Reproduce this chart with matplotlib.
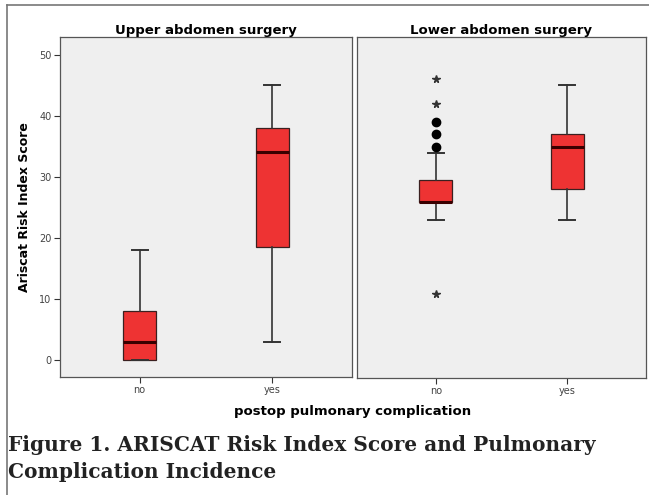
import numpy as np
import matplotlib.pyplot as plt
from matplotlib.lines import Line2D

# box summaries: [whislo, q1, med, q3, whishi]
groups = ['no', 'yes']
panels = ['Upper abdomen surgery', 'Lower abdomen surgery']
upper_stats = [[0, 0, 3, 8, 18], [3, 18.5, 34, 38, 45]]
lower_stats = [[23, 26, 26, 29.5, 34], [23, 28, 35, 37, 45]]
# outliers (circles) and extremes (stars), lower panel, group "no"
lower_outliers = [35, 37, 39]
lower_extremes = [11, 42, 46]

BOX_RED = '#ee3333'
PANEL_BG = '#efefef'


def make_stats(rows):
    out = []
    for lo, q1, med, q3, hi in rows:
        out.append(dict(whislo=lo, q1=q1, med=med, q3=q3, whishi=hi, fliers=[]))
    return out


fig = plt.figure(figsize=(6.49, 4.95), dpi=100)
W, H = 649, 495

ax1 = fig.add_axes([60 / W, 1 - 377 / H, 292 / W, 340 / H])
ax2 = fig.add_axes([357 / W, 1 - 378 / H, 289 / W, 341 / H], sharey=ax1)

for ax, stats, title in [(ax1, upper_stats, panels[0]), (ax2, lower_stats, panels[1])]:
    ax.set_facecolor(PANEL_BG)
    ax.bxp(make_stats(stats), positions=[1, 2], widths=0.25, patch_artist=True,
           showfliers=False, capwidths=0.12,
           boxprops=dict(facecolor=BOX_RED, edgecolor='#3a2020', linewidth=0.9),
           medianprops=dict(color='#3a0000', linewidth=2.2),
           whiskerprops=dict(color='#333333', linewidth=1.2),
           capprops=dict(color='#333333', linewidth=1.4))
    ax.set_xlim(0.4, 2.6)
    ax.set_xticks([1, 2])
    ax.set_xticklabels(groups, fontsize=7, color='#444444')
    ax.set_title(title, fontsize=9.5, fontweight='bold', pad=2)
    for s in ax.spines.values():
        s.set_color('#555555')
        s.set_linewidth(0.9)
    ax.tick_params(axis='x', length=4, color='#333333', pad=2)

ax2.plot([1] * len(lower_outliers), lower_outliers, 'o', color='black', markersize=6)
ax2.plot([1] * len(lower_extremes), lower_extremes, '*', color='#333333', markersize=5.5)

ax1.set_ylim(-2.8, 52.9)
ax1.set_yticks([0, 10, 20, 30, 40, 50])
ax1.tick_params(axis='y', labelsize=7, labelcolor='#444444', length=4, color='#333333', pad=2)
ax1.set_ylabel('Ariscat Risk Index Score', fontsize=9, fontweight='bold', labelpad=6)
ax2.tick_params(axis='y', left=False, labelleft=False)

fig.text(353 / W, 1 - 411 / H, 'postop pulmonary complication', ha='center', va='center',
         fontsize=9.5, fontweight='bold')

fig.text(8 / W, 1 - 435 / H, 'Figure 1. ARISCAT Risk Index Score and Pulmonary\nComplication Incidence',
         ha='left', va='top', fontsize=14.5, fontweight='bold', family='DejaVu Serif',
         color='#222222', linespacing=1.45)

# thin frame on top and left edges of the figure
fig.add_artist(Line2D([7 / W, 1], [1 - 5 / H, 1 - 5 / H], color='#777777', linewidth=1.2))
fig.add_artist(Line2D([7 / W, 7 / W], [0, 1 - 5 / H], color='#777777', linewidth=1.2))

fig.savefig('out.png', dpi=100)
